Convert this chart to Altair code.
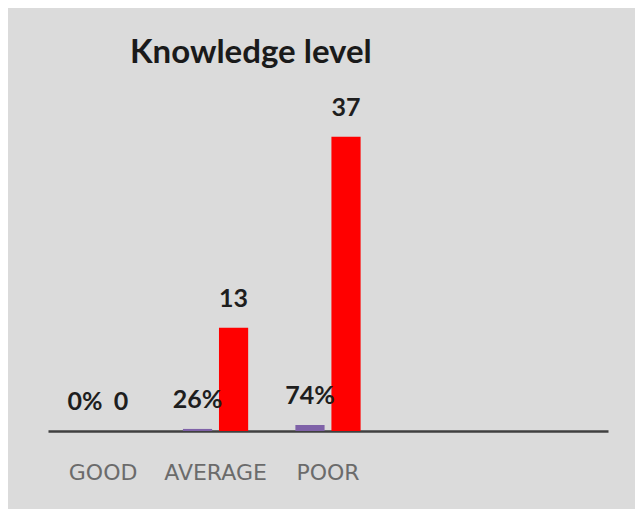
import altair as alt
import pandas as pd

categories = ["GOOD", "AVERAGE", "POOR"]
empty_slots = ["", " "]
percent_values = [0.0, 0.26, 0.74]
count_values = [0, 13, 37]
series_names = ["Percent", "Count"]
series_colors = ["#7f62a8", "#ff0000"]

rows = []
for c, p, n in zip(categories, percent_values, count_values):
    rows.append({"category": c, "series": "Percent", "value": p, "label": f"{round(p * 100)}%"})
    rows.append({"category": c, "series": "Count", "value": n, "label": f"{n}"})
df = pd.DataFrame(rows)

x = alt.X(
    "category:N",
    scale=alt.Scale(domain=categories + empty_slots, paddingInner=0.42, paddingOuter=0.2),
    axis=alt.Axis(
        title=None, labelAngle=0, ticks=False, grid=False,
        domainColor="#404040", domainWidth=2.5,
        labelColor="#6b6b6b", labelFont="DejaVu Sans", labelFontSize=22,
        labelPadding=31,
    ),
)
xoff = alt.XOffset("series:N", sort=series_names,
                   scale=alt.Scale(paddingInner=0.19, paddingOuter=0))
y = alt.Y("value:Q", scale=alt.Scale(domain=[0, 40], nice=False, zero=True), axis=None)

base = alt.Chart(df).encode(x=x, xOffset=xoff, y=y)
bars = base.mark_bar().encode(
    color=alt.Color("series:N", scale=alt.Scale(domain=series_names, range=series_colors), legend=None)
)
text = base.mark_text(baseline="alphabetic", dy=-21, font="Lato", fontSize=25,
                      fontWeight="bold", color="#1e1e1e").encode(text="label:N")

chart = alt.layer(bars, text).properties(
    width=560,
    height=318,
    title=alt.TitleParams("Knowledge level", anchor="start", dx=82, offset=26,
                          font="Lato", fontSize=33, fontWeight="bold", color="#1a1a1a"),
    padding={"left": 40, "top": 105, "right": 27, "bottom": 78},
    autosize=alt.AutoSizeParams(type="none"),
    background="#dbdbdb",
).configure_view(stroke=None)

chart.save("out.html", embed_options={"renderer": "svg", "actions": False})
